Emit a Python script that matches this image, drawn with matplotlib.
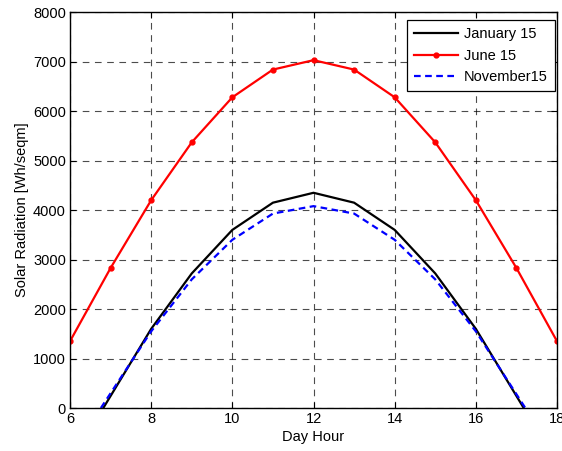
import numpy as np
import matplotlib.pyplot as plt

plt.rcParams['font.family'] = ['Liberation Sans', 'DejaVu Sans']

# data
hours_jan = [6.82, 8, 9, 10, 11, 12, 13, 14, 15, 16, 17.18]
jan = [0, 1600, 2720, 3600, 4150, 4350, 4150, 3600, 2720, 1600, 0]

hours_jun = [6, 7, 8, 9, 10, 11, 12, 13, 14, 15, 16, 17, 18]
jun = [1350, 2830, 4200, 5370, 6280, 6840, 7030, 6840, 6280, 5370, 4200, 2830, 1350]

hours_nov = [6.76, 8, 9, 10, 11, 12, 13, 14, 15, 16, 17.22]
nov = [0, 1550, 2600, 3400, 3930, 4080, 3930, 3400, 2600, 1550, 0]

fig = plt.figure(figsize=(5.62, 4.51), dpi=100)
ax = fig.add_axes([0.1246, 0.0953, 0.8665, 0.8777])

ax.plot(hours_jan, jan, color='black', lw=1.6, label='January 15')
ax.plot(hours_jun, jun, color='red', lw=1.6, marker='o', ms=3.5, label='June 15')
ax.plot(hours_nov, nov, color='blue', lw=1.6, ls=(0, (3, 2)), label='November15')

ax.set_xlim(6, 18)
ax.set_ylim(0, 8000)
ax.set_xticks(np.arange(6, 19, 2))
ax.set_yticks(np.arange(0, 8001, 1000))
ax.grid(True, color='black', ls=(0, (6, 5)), lw=0.8, alpha=0.7)
ax.tick_params(direction='in', top=True, right=True, labelsize=10.5, length=4, pad=3)
for s in ax.spines.values():
    s.set_linewidth(1.0)

ax.set_xlabel('Day Hour', fontsize=10.5, labelpad=3)
ax.set_ylabel('Solar Radiation [Wh/seqm]', fontsize=10.5, labelpad=3)

# legend box sits just inside the top right corner
leg = ax.legend(loc='upper right', bbox_to_anchor=(0.996, 0.98), fontsize=10.5,
                fancybox=False, framealpha=1, edgecolor='black', handlelength=3.0,
                handletextpad=0.4, borderpad=0.5, labelspacing=0.5, borderaxespad=0)
leg.get_frame().set_linewidth(0.9)

fig.savefig('out.png', dpi=100)
